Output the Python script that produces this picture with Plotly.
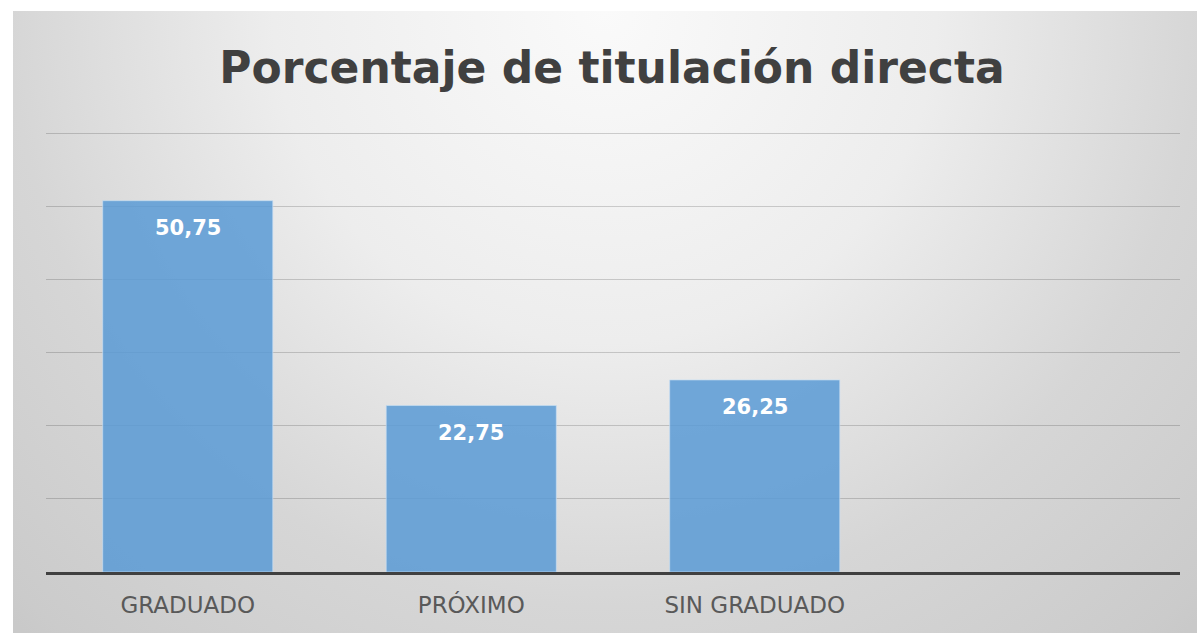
import plotly.graph_objects as go

# Daten
kategorien = ["GRADUADO", "PRÓXIMO", "SIN GRADUADO"]
porcentajes = [50.75, 22.75, 26.25]
titel = "Porcentaje de titulación directa"

B, H = 1197, 633
bg_l, bg_t = 13, 11          # Beginn des grauen Hintergrunds
bg_w, bg_h = B - bg_l, H - bg_t

fig = go.Figure()

# Hintergrund mit radialem Verlauf, Zentrum oben in der Mitte
cx, cy, R = 592, bg_h, 850
fig.add_trace(go.Scatter(
    x=[cx - R, cx + R, cx + R, cx - R, cx - R],
    y=[cy - R, cy - R, cy + R, cy + R, cy - R],
    xaxis="x", yaxis="y",
    mode="lines", line=dict(width=0),
    fill="toself",
    fillgradient=dict(type="radial", colorscale=[
        [0, "#fafafa"], [0.39, "#ededed"], [0.7, "#d6d6d6"], [0.97, "#cbcbcb"], [1, "#c9c9c9"]]),
    hoverinfo="skip", showlegend=False,
))

# Balken
fig.add_trace(go.Bar(
    x=kategorien, y=porcentajes,
    xaxis="x2", yaxis="y2",
    width=0.6,
    marker=dict(color="rgba(91,155,213,0.86)", line=dict(color="rgba(200,222,242,0.7)", width=1)),
    hoverinfo="x+y", showlegend=False,
))

# Datenbeschriftungen
for kat, wert in zip(kategorien, porcentajes):
    fig.add_annotation(
        x=kat, y=wert, xref="x2", yref="y2",
        text=f"{wert:.2f}".replace(".", ","),
        showarrow=False, yshift=-27, yanchor="middle",
        font=dict(family="DejaVu Sans", size=21, color="white", weight="bold"),
    )

# Plotbereich: y=0 bei 572px, y=60 bei 133px
unten, oben60 = 572, 133
px_pro_einheit = (unten - oben60) / 60
ymax = 61
oben = unten - ymax * px_pro_einheit

fig.update_layout(
    width=B, height=H,
    margin=dict(l=0, r=0, t=0, b=0),
    paper_bgcolor="white",
    plot_bgcolor="rgba(0,0,0,0)",
    title=dict(
        text=titel, x=612 / B, y=1 - 68 / H, xanchor="center", yanchor="middle",
        font=dict(family="DejaVu Sans", size=44, color="#404040", weight="bold"),
    ),
    xaxis=dict(domain=[bg_l / B, 1], range=[0, bg_w], visible=False, fixedrange=True),
    yaxis=dict(domain=[0, 1 - bg_t / H], range=[0, bg_h], visible=False, fixedrange=True),
    xaxis2=dict(
        domain=[46 / B, 1180 / B], anchor="y2", type="category",
        categoryorder="array", categoryarray=kategorien,
        range=[-0.5, 3.5],
        showline=True, linecolor="#404040", linewidth=3,
        showgrid=False, ticks="", ticklabelstandoff=10,
        tickfont=dict(family="DejaVu Sans", size=23, color="#595959"),
    ),
    yaxis2=dict(
        domain=[(H - unten) / H, (H - oben) / H], anchor="x2",
        range=[0, ymax], tickvals=[10, 20, 30, 40, 50, 60], showticklabels=False,
        showgrid=True, gridcolor="rgba(0,0,0,0.17)", gridwidth=1.3, zeroline=False,
    ),
)

# Seitenrand entfernen, damit die Figur genau ins Fenster passt
fig.write_html(
    "out.html",
    config={"displayModeBar": False},
    post_script="document.body.style.margin='0'; document.body.style.overflow='hidden';",
)
